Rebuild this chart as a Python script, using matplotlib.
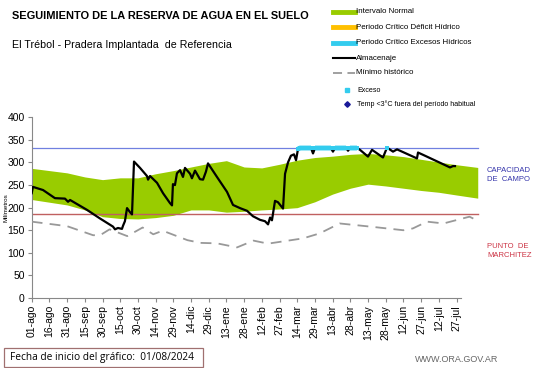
import numpy as np
import matplotlib
matplotlib.use("Agg")
import matplotlib.pyplot as plt
from matplotlib.lines import Line2D
from matplotlib.patches import Rectangle

plt.rcParams['font.family'] = ['Liberation Sans', 'DejaVu Sans']

# --- data (days since 01-ago-2024, mm) ---
tick_labels = ['01-ago', '16-ago', '31-ago', '15-sep', '30-sep', '15-oct', '30-oct', '14-nov',
               '29-nov', '14-dic', '29-dic', '13-ene', '28-ene', '12-feb', '27-feb', '14-mar',
               '29-mar', '13-abr', '28-abr', '13-may', '28-may', '12-jun', '27-jun', '12-jul', '27-jul']

band_days = [0, 15, 30, 45, 60, 75, 90, 105, 120, 135, 150, 165, 180, 195, 210, 225,
             240, 255, 270, 285, 300, 315, 330, 345, 360, 378]
band_upper = [287, 282, 277, 268, 262, 266, 266, 275, 282, 290, 298, 304, 290, 288, 296, 305,
              311, 314, 318, 320, 317, 313, 307, 301, 295, 289]
band_lower = [218, 212, 206, 195, 180, 176, 175, 178, 183, 195, 195, 190, 192, 195, 197, 200,
              213, 230, 243, 252, 248, 243, 238, 234, 228, 221]

min_days = [0, 30, 52, 58, 66, 81, 94, 103, 111, 132, 143, 157, 174, 188, 199, 202, 230,
            244, 261, 287, 315, 323, 335, 349, 371, 378]
min_hist = [169, 159, 139, 139, 152, 137, 156, 141, 149, 128, 122, 121, 112, 127, 121, 121, 132,
            143, 165, 158, 150, 154, 169, 165, 180, 171]

alm_days = [0, 1, 9.6, 19.7, 28.2, 30.8, 32.5, 46.9, 57.9, 68.9, 70.6, 73.1, 76.5, 77.4, 79,
            80.8, 83.3, 85, 86.7, 91.8, 97.7, 98.6, 100.3, 106.2, 111.3, 117.2, 118.9, 119.7,
            121.4, 123.1, 125.7, 128.2, 129.9, 134.2, 135.8, 138.4, 142.6, 145.2, 147.7, 149.4,
            157, 165.5, 170.6, 176.5, 182.5, 187.5, 193.5, 197.7, 200.3, 202, 203.6, 206.2,
            208.7, 213, 214.7, 217.2, 219.7, 222.3, 224, 225.7, 227.4, 236.7, 238.4, 240.1,
            253.6, 255.3, 257, 266.4, 268.1, 269.7, 275.7, 278.2, 285, 288.4, 297.7, 301.1,
            306.2, 309.6, 326.5, 327.4, 331.6, 354.5, 357, 358.7]
almacenaje = [232, 246, 239, 221, 220, 213, 217, 195, 176, 158, 152, 155, 153, 160, 170,
              199, 190, 185, 302, 288, 270, 262, 270, 255, 232, 210, 205, 252,
              250, 276, 283, 268, 288, 275, 265, 282, 263, 262, 280, 298,
              268, 235, 206, 199, 193, 181, 173, 170, 163, 178, 172, 215,
              212, 198, 275, 300, 315, 318, 305, 330, 332, 332, 320, 332,
              332, 324, 332, 332, 326, 332, 332, 328, 313, 328, 311, 333,
              324, 329, 309, 322, 317, 289, 292, 292]

capacidad_campo = 332
punto_marchitez = 185

# --- figure ---
fig = plt.figure(figsize=(5.41, 3.68), dpi=100)
ax = fig.add_axes([31.7 / 541, 1 - 298 / 368, 1.18 * 380 / 541, 180.7 / 368])

ax.fill_between(band_days, band_lower, band_upper, color='#99cc00', lw=0, zorder=1)
ax.axhline(capacidad_campo, xmin=0, xmax=378 / 380, color='#7080e0', lw=0.9, zorder=2)
ax.axhline(punto_marchitez, xmin=0, xmax=378 / 380, color='#c06060', lw=1.0, zorder=2)
ax.plot(min_days, min_hist, color='#999999', lw=1.3, dashes=(6, 4), zorder=3)

alm = np.array(almacenaje, dtype=float)
ax.plot(alm_days, alm, color='black', lw=1.6, zorder=4)
exc = np.where(alm >= 330, alm, np.nan)
ax.plot(alm_days, exc, color='#33ccee', lw=3.5, solid_capstyle='butt', zorder=5)
ax.plot(alm_days, exc, color='#33ccee', ls='none', marker='s', ms=3, mew=0, zorder=5)

ax.set_xlim(0, 380)
ax.set_ylim(0, 400)
ax.set_yticks(range(0, 401, 50))
ax.set_xticks(range(0, 361, 15))
ax.set_xticklabels(tick_labels, rotation=90, fontsize=7.5)
ax.tick_params(axis='y', labelsize=7.5, length=3, color='#888888', pad=2)
ax.tick_params(axis='x', length=3, color='#888888', pad=2)
for s in ['top', 'right']:
    ax.spines[s].set_visible(False)
ax.spines['left'].set_color('#888888')
ax.spines['bottom'].set_color('#888888')
ax.spines['bottom'].set_bounds(0, 364)
ax.set_ylabel('Milímetros', fontsize=4.5, labelpad=1)
ax.yaxis.set_label_coords(-0.052, 0.5)

# --- texts ---
fig.text(11.7 / 541, 1 - 15.7 / 368, 'SEGUIMIENTO DE LA RESERVA DE AGUA EN EL SUELO',
         fontsize=7.9, fontweight='bold', va='center')
fig.text(11.7 / 541, 1 - 45 / 368, 'El Trébol - Pradera Implantada  de Referencia',
         fontsize=7.7, va='center')

fig.text(487 / 541, 1 - 175 / 368, 'CAPACIDAD\nDE  CAMPO', fontsize=5.5, color='#3333aa',
         va='center', linespacing=1.3)
fig.text(487 / 541, 1 - 251 / 368, 'PUNTO  DE\nMARCHITEZ', fontsize=5.5, color='#cc3344',
         va='center', linespacing=1.3)

# legend
leg_y = [11.7, 27.3, 42.7, 58.3, 72.7, 90, 104.3]
leg_txt = ['Intervalo Normal', 'Periodo Crítico Déficit Hídrico', 'Periodo Crítico Excesos Hídricos',
           'Almacenaje', 'Mínimo histórico', 'Exceso', 'Temp <3°C fuera del período habitual']
x0, x1 = 333 / 541, 355 / 541
fy = [1 - y / 368 for y in leg_y]
fig.add_artist(Line2D([x0, x1], [fy[0]] * 2, color='#99cc00', lw=3.5))
fig.add_artist(Line2D([x0, x1], [fy[1]] * 2, color='#ffc000', lw=3.5))
fig.add_artist(Line2D([x0, x1], [fy[2]] * 2, color='#33ccee', lw=3.5))
fig.add_artist(Line2D([x0, x1], [fy[3]] * 2, color='black', lw=1.5))
fig.add_artist(Line2D([x0, x1], [fy[4]] * 2, color='#999999', lw=1.3, dashes=(5, 3)))
fig.add_artist(Line2D([347 / 541], [fy[5]], color='#33ccee', marker='s', ms=2.5, ls='none'))
fig.add_artist(Line2D([347 / 541], [fy[6]], color='#1a1a99', marker='D', ms=2.8, ls='none'))
for i, t in enumerate(leg_txt):
    xt = 356 / 541 if i < 5 else 357 / 541
    fig.text(xt, fy[i], t, fontsize=5.7 if i < 5 else 5.1, va='center')

# footer
fig.add_artist(Rectangle((4 / 541, 1 - 367 / 368), 199 / 541, 19 / 368, transform=fig.transFigure,
                         fill=False, edgecolor='#a07070', lw=0.9))
fig.text(10 / 541, 1 - 357.7 / 368, 'Fecha de inicio del gráfico:  01/08/2024', fontsize=7.3,
         va='center', family=['Open Sans', 'DejaVu Sans'])
fig.text(498 / 541, 1 - 360 / 368, 'WWW.ORA.GOV.AR', fontsize=6.5, color='#666666',
         va='center', ha='right')

fig.savefig('out.png', dpi=100)
